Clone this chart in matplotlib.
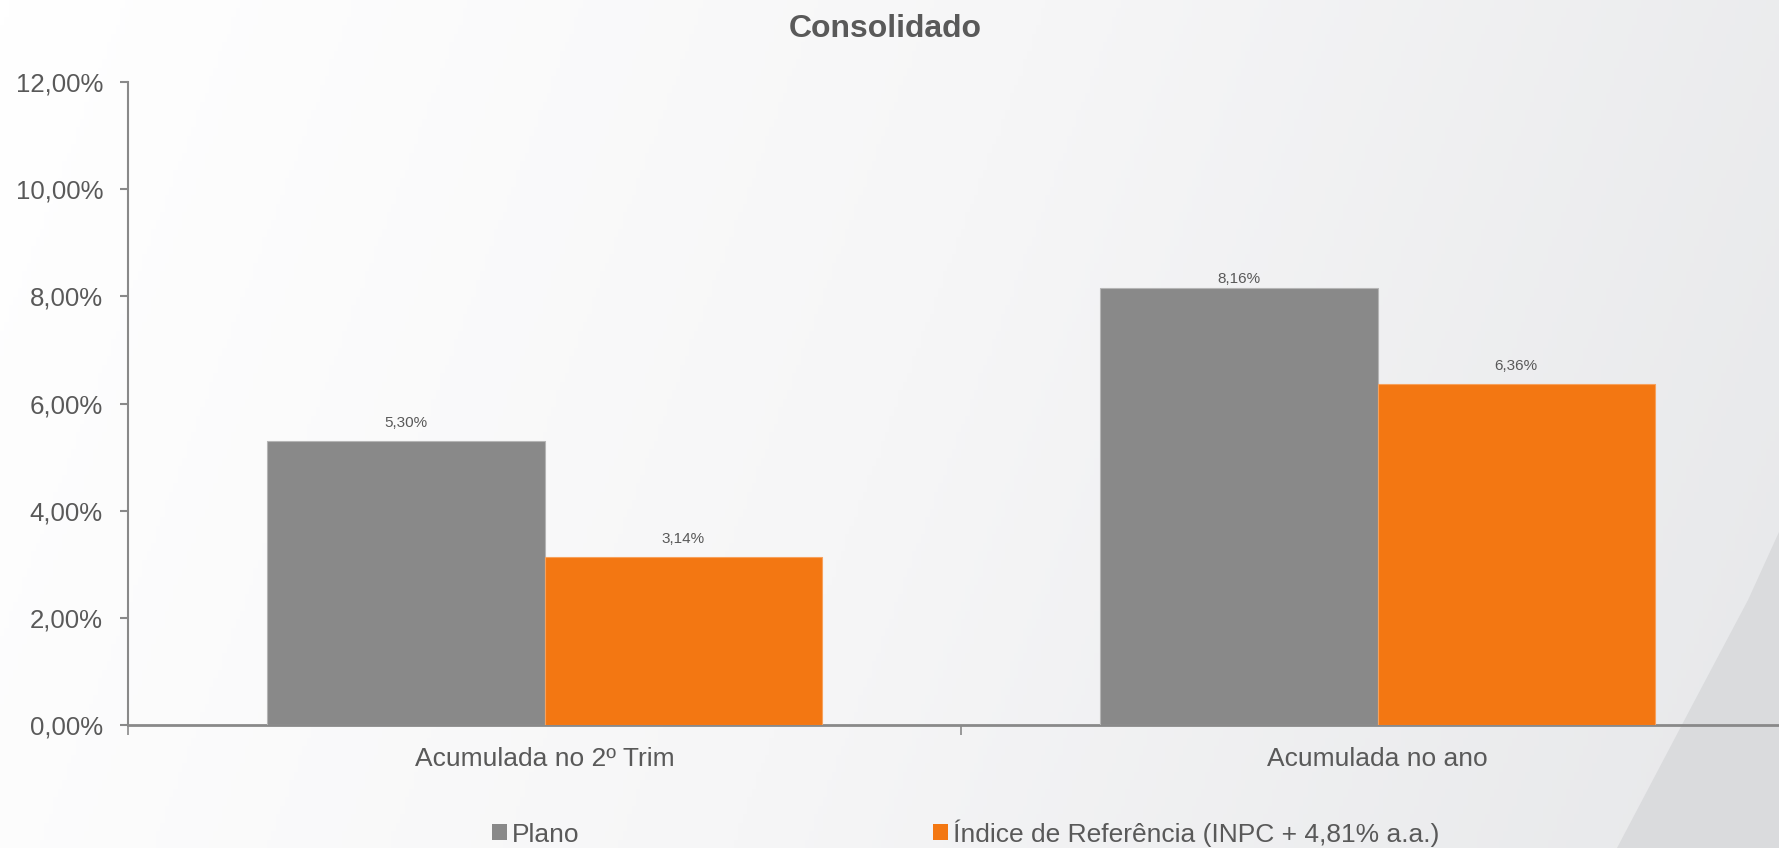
import matplotlib
matplotlib.use("Agg")
import matplotlib.pyplot as plt
import numpy as np
from matplotlib.patches import Patch, Polygon
from matplotlib.colors import LinearSegmentedColormap

plt.rcParams['font.family'] = ['Liberation Sans', 'DejaVu Sans']

# ---- data ----
categories = ["Acumulada no 2º Trim", "Acumulada no ano"]
series_names = ["Plano", "Índice de Referência (INPC + 4,81% a.a.)"]
plano = [5.30, 8.16]
indice = [3.14, 6.36]
yticks = [0, 2, 4, 6, 8, 10, 12]
title = "Consolidado"

# label offsets (points above bar top), style only
label_offsets = [[10, 3.6], [10, 10]]

GREY = "#898989"
ORANGE = "#f37712"
TXT = "#595959"

W, H = 1779, 848
fig = plt.figure(figsize=(W / 100, H / 100), dpi=100)

# ---- background ----
bg = fig.add_axes([0, 0, 1, 1], zorder=-10)
bg.set_xlim(0, W)
bg.set_ylim(H, 0)
bg.axis("off")
cmap = LinearSegmentedColormap.from_list("bg", ["#ffffff", "#f6f6f7", "#e7e8ea"])
gx = np.linspace(0, 1, 400)
gy = np.linspace(0, 1, 100)
GX, GY = np.meshgrid(gx, gy)
grad = np.clip(0.85 * GX + 0.15 * GY, 0, 1)
bg.imshow(grad, cmap=cmap, extent=[0, W, H, 0], aspect="auto", vmin=0, vmax=1)
bg.add_patch(Polygon([(1617, 848), (1695, 700), (1748, 600), (1779, 532), (1779, 848)],
                     closed=True, facecolor="#dadbdd", edgecolor="none"))

# ---- main axes ----
left = 128 / W
bottom = 1 - 725 / H
top = 1 - 82 / H
ax = fig.add_axes([left, bottom, 1666 / W, top - bottom])
ax.patch.set_alpha(0)

x = np.arange(len(categories))
bw = 0.333
b1 = ax.bar(x - bw / 2, plano, width=bw, color=GREY, edgecolor="#b5b5b5", linewidth=0.8, zorder=3)
b2 = ax.bar(x + bw / 2, indice, width=bw, color=ORANGE, edgecolor="#f7a15c", linewidth=0.8, zorder=3)

for si, (bars, vals) in enumerate(((b1, plano), (b2, indice))):
    for ci, (rect, v) in enumerate(zip(bars, vals)):
        ax.annotate(f"{v:.2f}%".replace(".", ","),
                    (rect.get_x() + rect.get_width() / 2, rect.get_height()),
                    xytext=(0, label_offsets[si][ci]), textcoords="offset points",
                    ha="center", va="baseline", fontsize=11, color=TXT)

ax.set_xlim(-0.5, len(categories) - 0.5)
ax.set_ylim(0, 12)
ax.set_yticks(yticks)
ax.set_yticklabels([f"{t:.2f}%".replace(".", ",") for t in yticks])

ax.set_xticks(x)
ax.set_xticklabels(categories)
ax.set_xticks(np.arange(-0.5, len(categories), 1.0), minor=True)
ax.tick_params(axis="x", which="major", length=0, pad=16, labelsize=19, labelcolor=TXT)
ax.tick_params(axis="x", which="minor", length=7, width=1.2, color=GREY, direction="out")
ax.tick_params(axis="y", length=6, width=1.5, color=GREY, pad=12, labelsize=18.6, labelcolor=TXT)

for s in ("top", "right"):
    ax.spines[s].set_visible(False)
ax.spines["left"].set_color(GREY)
ax.spines["left"].set_linewidth(1.5)
ax.spines["bottom"].set_color(GREY)
ax.spines["bottom"].set_linewidth(2)

fig.text(885 / W, 1 - 37 / H, title, ha="center", va="baseline",
         fontsize=23, fontweight="bold", color=TXT)

handles = [Patch(facecolor=GREY), Patch(facecolor=ORANGE)]
fig.legend(handles, series_names, loc="center", bbox_to_anchor=(966 / W, 1 - 833 / H),
           ncol=2, frameon=False, fontsize=19, labelcolor=TXT,
           handlelength=0.55, handleheight=0.55, handletextpad=0.2,
           columnspacing=13.4, borderpad=0)

fig.savefig("out.png", dpi=100)
